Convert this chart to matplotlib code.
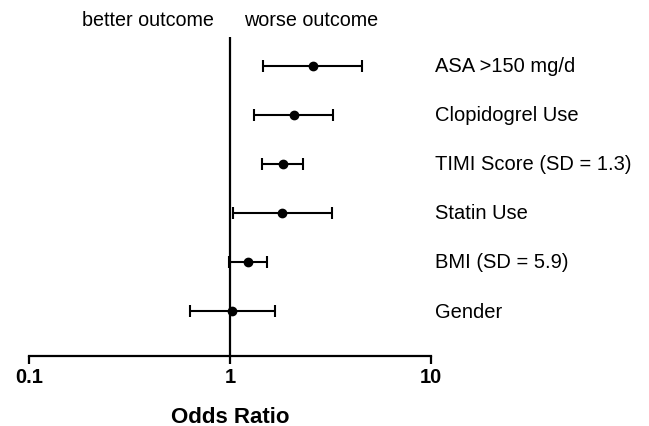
import matplotlib
matplotlib.use("Agg")
import matplotlib.pyplot as plt
import numpy as np

plt.rcParams['font.family'] = ['Liberation Sans', 'DejaVu Sans']

labels = ["ASA >150 mg/d", "Clopidogrel Use", "TIMI Score (SD = 1.3)",
          "Statin Use", "BMI (SD = 5.9)", "Gender"]
odds = [2.58, 2.08, 1.83, 1.82, 1.23, 1.02]
lower = [1.46, 1.32, 1.44, 1.03, 0.99, 0.634]
upper = [4.52, 3.27, 2.32, 3.20, 1.52, 1.67]
tick_vals = [0.1, 1, 10]
tick_labels = ["0.1", "1", "10"]

fig = plt.figure(figsize=(6.49, 4.27), dpi=100)
ax = fig.add_axes([29/649, 70/427, 402/649, 319/427])

n = len(labels)
ypos = np.arange(n, 0, -1)
odds_a = np.array(odds)
xerr = np.vstack([odds_a - np.array(lower), np.array(upper) - odds_a])
ax.errorbar(odds_a, ypos, xerr=xerr, fmt='o', color='black', ms=6,
            elinewidth=1.5, capsize=4, capthick=1.5, clip_on=False, zorder=3)

ax.set_xscale('log')
ax.set_xlim(0.1, 10)
ax.set_ylim(0.082, 6.59)
ax.axvline(1, color='black', lw=1.6, zorder=2)

for s in ['top', 'right', 'left']:
    ax.spines[s].set_visible(False)
ax.spines['bottom'].set_linewidth(1.6)
ax.set_yticks([])
ax.set_xticks(tick_vals)
ax.set_xticklabels(tick_labels, fontsize=14.5, fontweight='bold')
ax.xaxis.set_minor_locator(matplotlib.ticker.NullLocator())
ax.tick_params(axis='x', direction='out', length=6, width=1.6, pad=2)
ax.set_xlabel("Odds Ratio", fontsize=16, fontweight='bold', labelpad=14)

for lab, y in zip(labels, ypos):
    ax.text(1.01, y, lab, transform=ax.get_yaxis_transform(), fontsize=14.5,
            va='center', ha='left', clip_on=False)

fig.text(148/649, 1 - 20/427, "better outcome", fontsize=14.2, ha='center', va='center')
fig.text(311/649, 1 - 20/427, "worse outcome", fontsize=14.2, ha='center', va='center')

fig.savefig("out.png", dpi=100)
